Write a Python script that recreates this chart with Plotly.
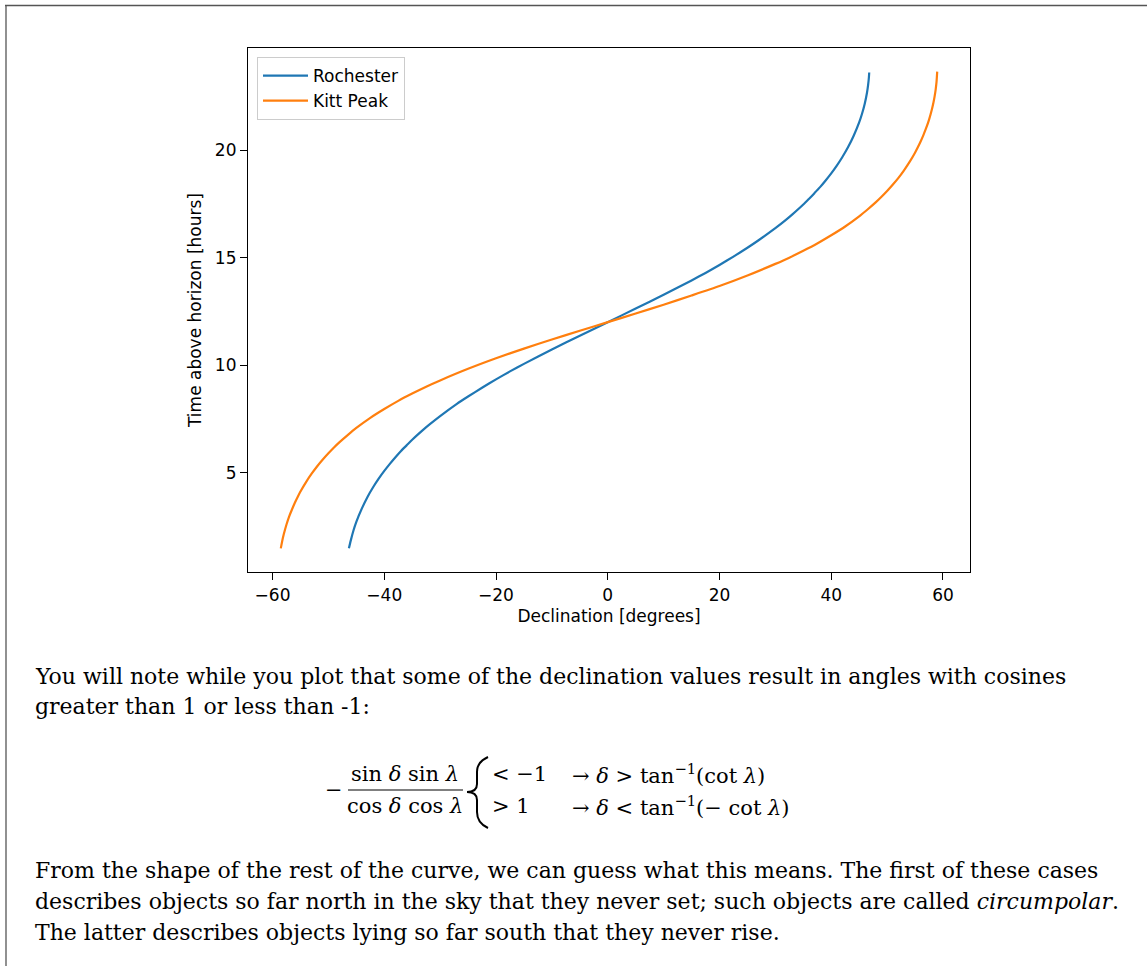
import plotly.graph_objects as go

# ---- data ----
roch_dec = [-46.33, -46.0, -45.5, -45.0, -44.0, -43.0, -42.0, -41.0, -40.0, -39.0, -38.0, -37.0, -36.0,
            -35.0, -33.0, -32.0, -30.0, -27.0, -25.0, -22.5, -20.0, -17.5, -15.0, -10.0, -5.0, 0.0,
            5.0, 10.0, 15.0, 17.5, 20.0, 22.5, 25.0, 27.0, 30.0, 32.0, 33.0, 35.0, 36.0, 37.0, 38.0,
            39.0, 40.0, 41.0, 42.0, 43.0, 44.0, 45.0, 45.5, 46.0, 46.4, 46.6, 46.75, 46.8]
roch_hours = [1.48, 1.84, 2.32, 2.71, 3.34, 3.87, 4.32, 4.72, 5.08, 5.41, 5.72, 6.01, 6.27,
              6.53, 7.00, 7.22, 7.63, 8.20, 8.54, 8.95, 9.34, 9.71, 10.06, 10.73, 11.37, 12.0,
              12.63, 13.27, 13.94, 14.29, 14.66, 15.05, 15.46, 15.81, 16.37, 16.78, 17.00, 17.47, 17.73, 18.00, 18.28,
              18.59, 18.92, 19.28, 19.68, 20.13, 20.66, 21.29, 21.68, 22.16, 22.67, 23.02, 23.40, 23.61]

kitt_dec = [-58.52, -58.3, -58.0, -57.5, -57.0, -56.5, -56.0, -55.5, -55.0, -54.0, -53.0, -52.0, -51.0,
            -50.0, -49.0, -48.0, -46.5, -45.0, -42.5, -40.0, -37.5, -35.0, -32.5, -30.0, -25.0, -20.0,
            -15.0, -10.0, -5.0, 0.0, 5.0, 10.0, 15.0, 20.0, 25.0, 30.0, 32.5, 35.0, 37.5, 40.0, 42.5,
            45.0, 46.5, 48.0, 49.0, 50.0, 51.0, 52.0, 53.0, 54.0, 55.0, 55.5, 56.0, 56.5, 57.0, 57.5,
            58.0, 58.3, 58.5, 58.7, 58.85, 58.97]
kitt_hours = [1.48, 1.78, 2.12, 2.59, 2.98, 3.30, 3.60, 3.87, 4.12, 4.56, 4.95, 5.30, 5.61,
              5.90, 6.17, 6.42, 6.76, 7.08, 7.55, 7.96, 8.34, 8.68, 9.00, 9.29, 9.83, 10.32,
              10.77, 11.19, 11.60, 12.0, 12.40, 12.81, 13.24, 13.68, 14.17, 14.71, 15.00, 15.32, 15.66, 16.04, 16.45,
              16.92, 17.24, 17.58, 17.83, 18.10, 18.39, 18.70, 19.05, 19.44, 19.88, 20.13, 20.40, 20.70, 21.03, 21.41,
              21.88, 22.22, 22.49, 22.83, 23.17, 23.65]

series_names = ["Rochester", "Kitt Peak"]
x_ticks = [-60, -40, -20, 0, 20, 40, 60]
y_ticks = [5, 10, 15, 20]

# ---- layout geometry (pixels) ----
W, H = 1147, 966
L, R, T, B = 248, 970, 48, 572


def fx(px):
    return (px - L) / (R - L)


def fy(py):
    return (B - py) / (B - T)


fig = go.Figure()
fig.add_trace(go.Scatter(x=roch_dec, y=roch_hours, mode="lines", name=series_names[0],
                         line=dict(color="#1f77b4", width=2.2, shape="spline", smoothing=0.6)))
fig.add_trace(go.Scatter(x=kitt_dec, y=kitt_hours, mode="lines", name=series_names[1],
                         line=dict(color="#ff7f0e", width=2.2, shape="spline", smoothing=0.6)))

axis_font = dict(family="DejaVu Sans", size=17, color="black")
fig.update_xaxes(range=[-64.39, 64.84], tickvals=x_ticks,
                 ticktext=[("−" + str(-v)) if v < 0 else str(v) for v in x_ticks],
                 ticks="outside", ticklen=7, tickwidth=1.2, tickcolor="black",
                 showline=True, linecolor="black", linewidth=1.2, mirror=True,
                 showgrid=False, zeroline=False, tickfont=axis_font,
                 title=dict(text="Declination [degrees]", font=axis_font, standoff=6))
fig.update_yaxes(range=[0.38, 24.75], tickvals=y_ticks,
                 ticks="outside", ticklen=7, tickwidth=1.2, tickcolor="black",
                 showline=True, linecolor="black", linewidth=1.2, mirror=True,
                 showgrid=False, zeroline=False, tickfont=axis_font,
                 title=dict(text="Time above horizon [hours]", font=axis_font, standoff=8))

serif = "DejaVu Serif"
tsize = 22
esize = 21
ann = []


def text(px, py, s, size=tsize, anchor="left"):
    ann.append(dict(x=fx(px), y=fy(py), xref="paper", yref="paper", text=s, showarrow=False,
                    xanchor=anchor, yanchor="middle",
                    font=dict(family=serif, size=size, color="black")))


text(33, 676, "You will note while you plot that some of the declination values result in angles with cosines")
text(33, 706, "greater than 1 or less than -1:")

# equation
text(334, 790, "−", size=esize, anchor="center")
text(405, 774, "sin <i>δ</i> sin <i>λ</i>", size=esize, anchor="center")
text(405, 806, "cos <i>δ</i> cos <i>λ</i>", size=esize, anchor="center")
text(490, 774, "&lt; −1", size=esize)
text(490, 806, "&gt; 1", size=esize)
text(570, 774, "→ <i>δ</i> &gt; tan<sup>−1</sup>(cot <i>λ</i>)", size=esize)
text(570, 806, "→ <i>δ</i> &lt; tan<sup>−1</sup>(− cot <i>λ</i>)", size=esize)

text(33, 870, "From the shape of the rest of the curve, we can guess what this means. The first of these cases")
text(33, 901, "describes objects so far north in the sky that they never set; such objects are called <i>circumpolar</i>.")
text(33, 932, "The latter describes objects lying so far south that they never rise.")

shapes = []
# fraction bar
shapes.append(dict(type="line", xref="paper", yref="paper", x0=fx(348), x1=fx(463), y0=fy(790), y1=fy(790),
                   line=dict(color="black", width=1.2)))
# cases brace
pts = [(488, 757), (477, 762), (477, 772), (477, 784), (467, 792), (477, 800), (477, 812), (477, 823), (488, 828)]
p = [(fx(a), fy(b)) for a, b in pts]
path = (f"M {p[0][0]},{p[0][1]} Q {p[1][0]},{p[1][1]} {p[2][0]},{p[2][1]} "
        f"L {p[3][0]},{p[3][1]} Q {p[3][0]},{p[4][1]} {p[4][0]},{p[4][1]} "
        f"Q {p[5][0]},{p[4][1]} {p[5][0]},{p[5][1]} L {p[6][0]},{p[6][1]} "
        f"Q {p[7][0]},{p[7][1]} {p[8][0]},{p[8][1]}")
shapes.append(dict(type="path", xref="paper", yref="paper", path=path, line=dict(color="black", width=2)))
# page border (top and left)
shapes.append(dict(type="line", xref="paper", yref="paper", x0=fx(5), x1=fx(1147), y0=fy(5.5), y1=fy(5.5),
                   line=dict(color="#555555", width=1.3)))
shapes.append(dict(type="line", xref="paper", yref="paper", x0=fx(6), x1=fx(6), y0=fy(5.5), y1=fy(966),
                   line=dict(color="#555555", width=1.3)))

fig.update_layout(
    width=W, height=H, autosize=False,
    margin=dict(l=L, r=W - R, t=T, b=H - B, pad=0),
    paper_bgcolor="white", plot_bgcolor="white",
    showlegend=True,
    legend=dict(x=fx(257), y=fy(57), xanchor="left", yanchor="top",
                bgcolor="white", bordercolor="#cccccc", borderwidth=1,
                font=dict(family="DejaVu Sans", size=17, color="black"),
                itemwidth=45, tracegroupgap=0),
    annotations=ann, shapes=shapes,
)

fig.write_html("out.html", config={"displayModeBar": False},
               post_script="document.body.style.margin='0';")
